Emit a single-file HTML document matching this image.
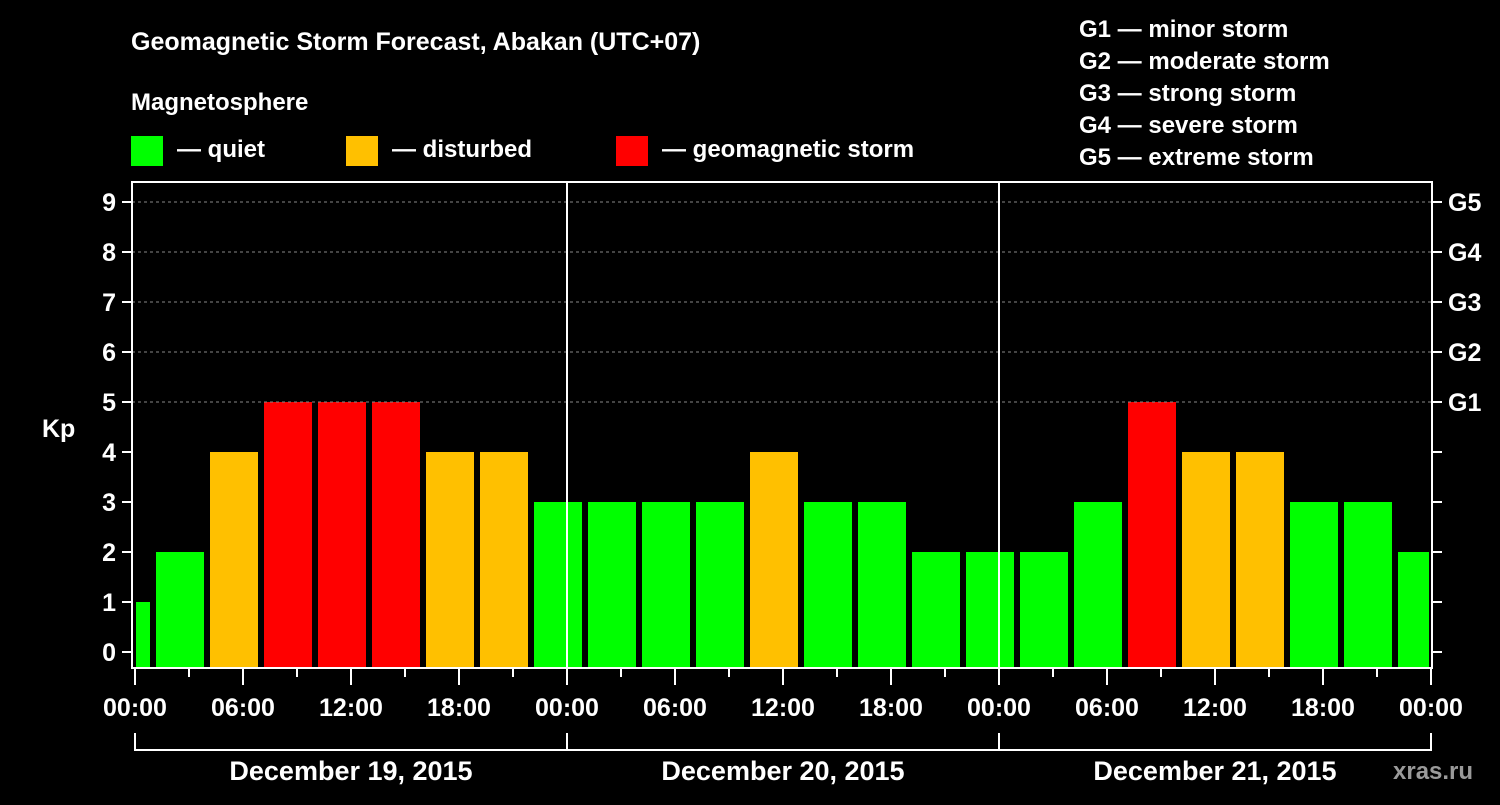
<!DOCTYPE html>
<html><head><meta charset="utf-8"><style>
body{margin:0;background:#000;}
svg text{font-family:"Liberation Sans",sans-serif;font-weight:bold;fill:#fff;}
</style></head><body>
<svg width="1500" height="800" viewBox="0 0 1500 800">
<g id="hdr">
<text x="131" y="50" font-size="25">Geomagnetic Storm Forecast, Abakan (UTC+07)</text>
<text x="131" y="110" font-size="24">Magnetosphere</text>
<rect x="131" y="136" width="32" height="30" fill="#00ff00"/>
<text x="177" y="157" font-size="24">— quiet</text>
<rect x="346" y="136" width="32" height="30" fill="#ffc000"/>
<text x="392" y="157" font-size="24">— disturbed</text>
<rect x="616" y="136" width="32" height="30" fill="#ff0000"/>
<text x="662" y="157" font-size="24">— geomagnetic storm</text>
<text x="1079" y="37" font-size="24">G1 — minor storm</text>
<text x="1079" y="69" font-size="24">G2 — moderate storm</text>
<text x="1079" y="101" font-size="24">G3 — strong storm</text>
<text x="1079" y="133" font-size="24">G4 — severe storm</text>
<text x="1079" y="165" font-size="24">G5 — extreme storm</text>
<text x="42" y="437" font-size="25">Kp</text>
<text x="1393" y="779" font-size="24" fill="#999" style="fill:#9a9a9a">xras.ru</text>
</g>
<g id="plot"></g>
</svg>
<script>
const kpValues=[1,2,4,5,5,5,4,4,3,3,3,3,4,3,3,2,2,2,3,5,4,4,3,3,2];
const yTicks=[0,1,2,3,4,5,6,7,8,9];
const gLabels=["G1","G2","G3","G4","G5"];
const xTickLabels=["00:00","06:00","12:00","18:00","00:00","06:00","12:00","18:00","00:00","06:00","12:00","18:00","00:00"];
const dayLabels=["December 19, 2015","December 20, 2015","December 21, 2015"];
const NS="http://www.w3.org/2000/svg";
const g=document.getElementById('plot');
const X0=135,PXH=18,L=132,R=1432,T=182,B=668;
const xs=h=>X0+h*PXH, ys=v=>652-50*v;
function mk(t,a,p){const e=document.createElementNS(NS,t);for(const k in a)e.setAttribute(k,a[k]);(p||g).appendChild(e);return e;}
function col(v){return v>=5?"#ff0000":v>=4?"#ffc000":"#00ff00";}
kpValues.forEach((v,i)=>{const c=-0.5+3*i;let x1=xs(c)-24,x2=xs(c)+24;x1=Math.max(x1,136);x2=Math.min(x2,1429);
const r=mk('rect',{x:x1,y:ys(v),width:x2-x1,height:B-ys(v),fill:col(v)});

});
yTicks.forEach(v=>{const y=ys(v);
if(v>=5){const d=mk('line',{x1:L,x2:R,y1:y,y2:y,stroke:'#888','stroke-dasharray':'3,3','stroke-width':1});}
mk('line',{x1:122,x2:L,y1:y,y2:y,stroke:'#fff','stroke-width':2});
mk('line',{x1:R,x2:1442,y1:y,y2:y,stroke:'#fff','stroke-width':2});
const t=mk('text',{x:116,y:y+9,'font-size':25,'text-anchor':'end'});t.textContent=v;
});
gLabels.forEach((s,i)=>{const t=mk('text',{x:1448,y:ys(5+i)+9,'font-size':25});t.textContent=s;
});
[24,48].forEach(h=>mk('line',{x1:xs(h),x2:xs(h),y1:T,y2:B,stroke:'#fff','stroke-width':2}));
mk('rect',{x:L,y:T,width:R-L,height:B-T,fill:'none',stroke:'#fff','stroke-width':2});
for(let h=0;h<=72;h+=3){const maj=h%6==0;mk('line',{x1:xs(h),x2:xs(h),y1:B,y2:B+(maj?17:9),stroke:'#fff','stroke-width':2});}
xTickLabels.forEach((s,i)=>{const t=mk('text',{x:xs(6*i),y:716,'font-size':25,'text-anchor':'middle'});t.textContent=s;
});
mk('polyline',{points:`${xs(0)},733 ${xs(0)},750 ${xs(72)},750 ${xs(72)},733`,fill:'none',stroke:'#fff','stroke-width':2});
[24,48].forEach(h=>mk('line',{x1:xs(h),x2:xs(h),y1:733,y2:750,stroke:'#fff','stroke-width':2}));
dayLabels.forEach((s,i)=>{const t=mk('text',{x:xs(24*i+12),y:780,'font-size':27,'text-anchor':'middle'});t.textContent=s;
});
</script>
</body></html>
